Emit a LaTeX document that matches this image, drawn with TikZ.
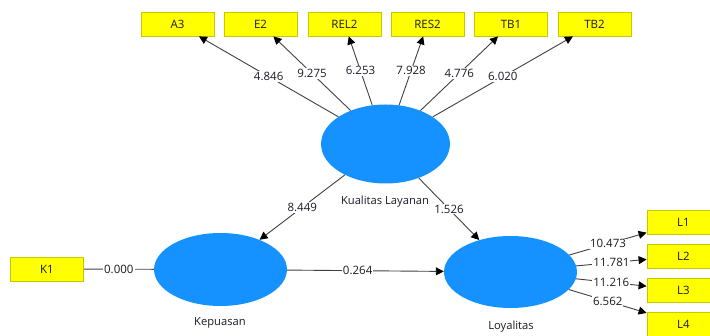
\documentclass[tikz,border=0pt]{standalone}
\usepackage{fontspec}
\setmainfont{Open Sans}
\usetikzlibrary{shapes.geometric,arrows.meta}
\definecolor{lvblue}{HTML}{1592FF}
\definecolor{indfill}{HTML}{FFFF00}
\definecolor{indborder}{HTML}{C8C800}
\definecolor{edgecol}{HTML}{404040}
\definecolor{txtcol}{HTML}{1A1A26}
\begin{document}
\begin{tikzpicture}[x=1pt,y=-1pt,
  ind/.style={draw=indborder, fill=indfill, minimum width=73pt, minimum height=24pt, inner sep=0pt, line width=0.8pt, text=txtcol, font=\fontsize{11.5}{13}\selectfont},
  lv/.style={ellipse, fill=lvblue, inner sep=0pt},
  lvname/.style={text=txtcol, font=\fontsize{11.2}{13}\selectfont},
  conn/.style={draw=edgecol, line width=0.9pt, -{Triangle[length=8pt,width=8pt,color=black]}},
  plain/.style={draw=edgecol, line width=0.9pt},
  coef/.style={fill=white, inner sep=1pt, text=txtcol, font=\fontsize{11.5}{13}\selectfont}
]
\useasboundingbox (0,0) rectangle (710,336);
\clip (0,0) rectangle (710,336);
% indicators
\node[ind] (A3) at (177.5,24) {A3};
\node[ind] (E2) at (260.5,24) {E2};
\node[ind] (REL2) at (344.5,24) {REL2};
\node[ind] (RES2) at (427.5,24) {RES2};
\node[ind] (TB1) at (511,24) {TB1};
\node[ind] (TB2) at (594.5,24) {TB2};
\node[ind] (K1) at (47,269) {K1};
\node[ind] (L1) at (683.5,222) {L1};
\node[ind] (L2) at (683.5,256) {L2};
\node[ind] (L3) at (683.5,290) {L3};
\node[ind] (L4) at (683.5,324) {L4};
% latent variables
\node[lv, minimum width=129pt, minimum height=79pt] (KL) at (385.5,144) {};
\node[lv, minimum width=133pt, minimum height=73pt] (KEP) at (220.5,269.5) {};
\node[lv, minimum width=133pt, minimum height=72pt] (LOY) at (510.5,272) {};
\node[lvname] (KLname) at (385,202) {Kualitas Layanan};
\node[lvname] (KEPname) at (220,323) {Kepuasan};
\node[lvname] (LOYname) at (511,327) {Loyalitas};
% connectors
\draw[conn] (KL) -- node[coef] {4.846} (A3);
\draw[conn] (KL) -- node[coef] {9.275} (E2);
\draw[conn] (KL) -- node[coef] {6.253} (REL2);
\draw[conn] (KL) -- node[coef] {7.928} (RES2);
\draw[conn] (KL) -- node[coef] {4.776} (TB1);
\draw[conn] (KL) -- node[coef] {6.020} (TB2);
\draw[conn] (KL) -- node[coef] {8.449} (KEP);
\draw[conn] (KL) -- node[coef] {1.526} (LOY);
\draw[conn] (KEP) -- node[coef, pos=0.45] {0.264} (LOY);
\draw[plain] (K1) -- node[coef] {0.000} (KEP);
\draw[conn] (LOY) -- node[coef] {10.473} (L1);
\draw[conn] (LOY) -- node[coef] {11.781} (L2);
\draw[conn] (LOY) -- node[coef] {11.216} (L3);
\draw[conn] (LOY) -- node[coef] {6.562} (L4);
\end{tikzpicture}
\end{document}
